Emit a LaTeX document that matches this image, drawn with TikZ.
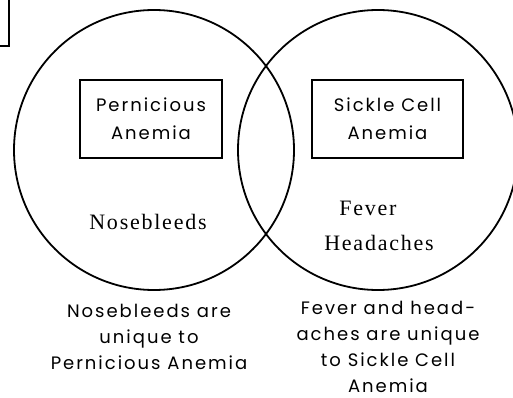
\documentclass[tikz,border=0pt]{standalone}
\usepackage{fontspec}
\newfontfamily\labelfont{Poppins}[LetterSpace=11]
\newfontfamily\itemfont{Liberation Serif}[LetterSpace=8]

\begin{document}
\begin{tikzpicture}[
  x=1pt, y=-1pt,
  set/.style={circle, draw, line width=1.8pt, minimum size=280pt, inner sep=0pt},
  namebox/.style={draw, line width=1.6pt, minimum height=78pt, inner sep=0pt,
    align=center, font=\labelfont\fontsize{18}{28}\selectfont},
  item/.style={font=\itemfont\fontsize{22}{24}\selectfont},
  note/.style={anchor=north, inner sep=0pt, align=center,
    font=\labelfont\fontsize{18}{26}\selectfont}
]
  \clip (0,0) rectangle (513,398);
  % corner box, cut off by the page
  \draw[line width=1.6pt] (-60,-40) rectangle (9,46);

  \node[set] (pa) at (154,150) {};
  \node[set] (sc) at (378,150) {};

  \node[namebox, minimum width=142pt] (paname) at (151,119) {Pernicious\\Anemia};
  \node[namebox, minimum width=151pt] (scname) at (387.5,119) {Sickle Cell\\Anemia};

  \node[item] (nose) at (148,222) {Nosebleeds};
  \node[item] (fever) at (368,208) {Fever};
  \node[item] (head) at (379,243) {Headaches};

  \node[note] (panote) at (149,304) {Nosebleeds are\\unique to\\Pernicious Anemia};
  \node[note] (scnote) at (388,301) {Fever and head-\\aches are unique\\to Sickle Cell\\Anemia};
\end{tikzpicture}
\end{document}
